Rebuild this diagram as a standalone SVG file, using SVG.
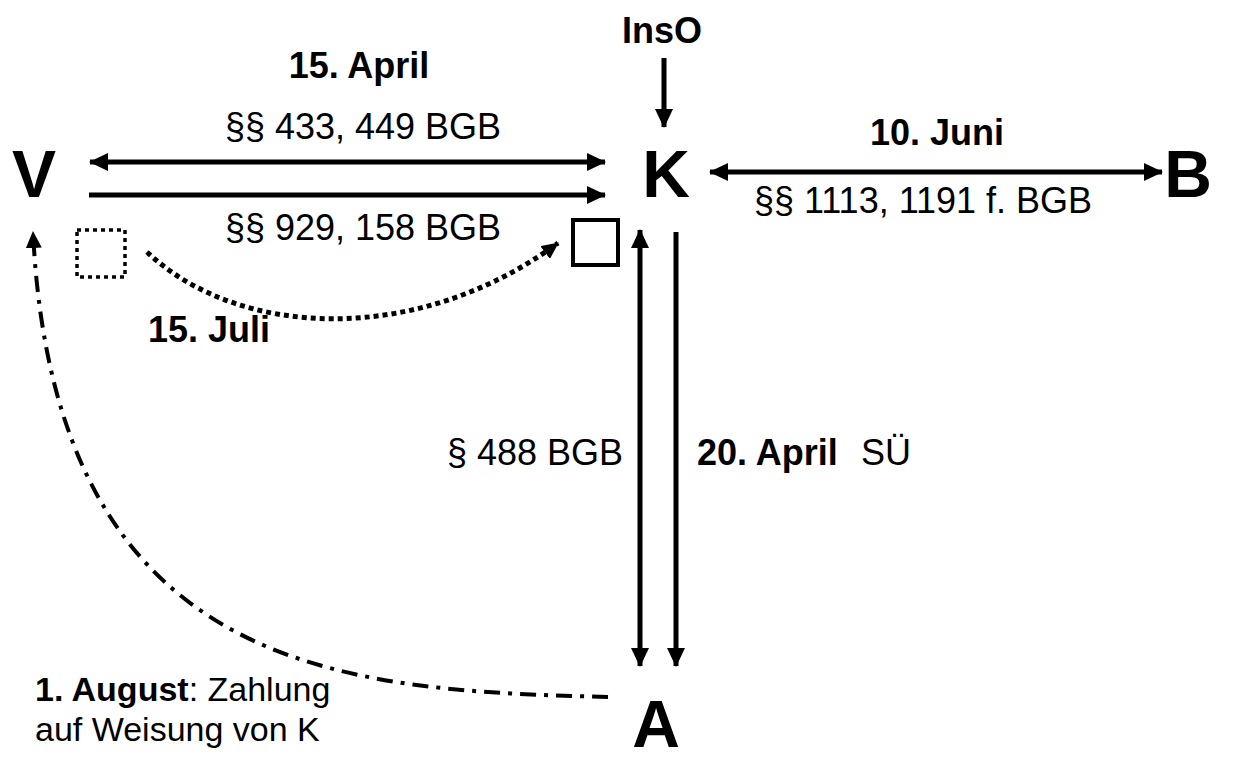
<svg xmlns="http://www.w3.org/2000/svg" width="1238" height="761" viewBox="0 0 1238 761">
<style>
text{font-family:"Liberation Sans",Arial,sans-serif;fill:#000}
.big{font-size:66px;font-weight:bold;text-anchor:middle}
.lbl{font-size:36px}
.sm{font-size:34px}
.b{font-weight:bold}
.ln{stroke:#000;stroke-width:5;fill:none}
</style>
<defs>
<marker id="ah" markerUnits="userSpaceOnUse" markerWidth="20" markerHeight="18" refX="18" refY="9" orient="auto-start-reverse" viewBox="0 0 20 18">
<path d="M0,0 L19,9 L0,18 Z" fill="#000"/>
</marker>
<marker id="ahs" markerUnits="userSpaceOnUse" markerWidth="18" markerHeight="16" refX="16" refY="8" orient="auto" viewBox="0 0 18 16">
<path d="M0,0 L17,8 L0,16 Z" fill="#000"/>
</marker>
</defs>
<g id="node-V"><text class="big" x="34" y="197">V</text></g>
<g id="node-K"><text class="big" x="666" y="197">K</text></g>
<g id="node-B"><text class="big" x="1188" y="197">B</text></g>
<g id="node-A"><text class="big" x="656" y="747">A</text></g>
<g id="node-InsO"><text class="lbl b" x="662" y="43" text-anchor="middle">InsO</text></g>
<g id="node-box-dotted"><rect x="77" y="230" width="48" height="47" fill="none" stroke="#000" stroke-width="3.5" stroke-dasharray="4 4"/></g>
<g id="node-box"><rect x="573" y="220" width="45" height="45" fill="none" stroke="#000" stroke-width="4"/></g>
<g id="connectors">
<line class="ln" x1="664" y1="58" x2="664" y2="127" marker-end="url(#ah)"/>
<line class="ln" x1="90" y1="162" x2="605" y2="162" marker-start="url(#ah)" marker-end="url(#ah)"/>
<line class="ln" x1="89" y1="195" x2="605" y2="195" marker-end="url(#ah)"/>
<line class="ln" x1="710" y1="172" x2="1162" y2="172" marker-start="url(#ah)" marker-end="url(#ah)"/>
<line class="ln" x1="640" y1="230" x2="640" y2="666" marker-start="url(#ah)" marker-end="url(#ah)"/>
<line class="ln" x1="676" y1="232" x2="676" y2="666" marker-end="url(#ah)"/>
<path d="M147,252 C240,340 420,345 558,243" fill="none" stroke="#000" stroke-width="5" stroke-dasharray="5 4" marker-end="url(#ahs)"/>
<path d="M608,697 C350,690 55,680 33,232" fill="none" stroke="#000" stroke-width="4" stroke-dasharray="16 8 4 8" marker-end="url(#ahs)"/>
</g>
<g id="labels">
<text class="lbl b" x="359" y="78" text-anchor="middle">15. April</text>
<text class="lbl" x="363" y="139" text-anchor="middle">§§ 433, 449 BGB</text>
<text class="lbl" x="363" y="240" text-anchor="middle">§§ 929, 158 BGB</text>
<text class="lbl b" x="937" y="145" text-anchor="middle">10. Juni</text>
<text class="lbl" x="923" y="213" text-anchor="middle">§§ 1113, 1191 f. BGB</text>
<text class="lbl b" x="148" y="342">15. Juli</text>
<text class="lbl" x="623" y="465" text-anchor="end">§ 488 BGB</text>
<text class="lbl" x="697" y="465"><tspan class="b">20. April</tspan><tspan x="861">SÜ</tspan></text>
<text class="sm" x="35" y="701"><tspan class="b">1. August</tspan>: Zahlung</text>
<text class="sm" x="35" y="741">auf Weisung von K</text>
</g>
</svg>
